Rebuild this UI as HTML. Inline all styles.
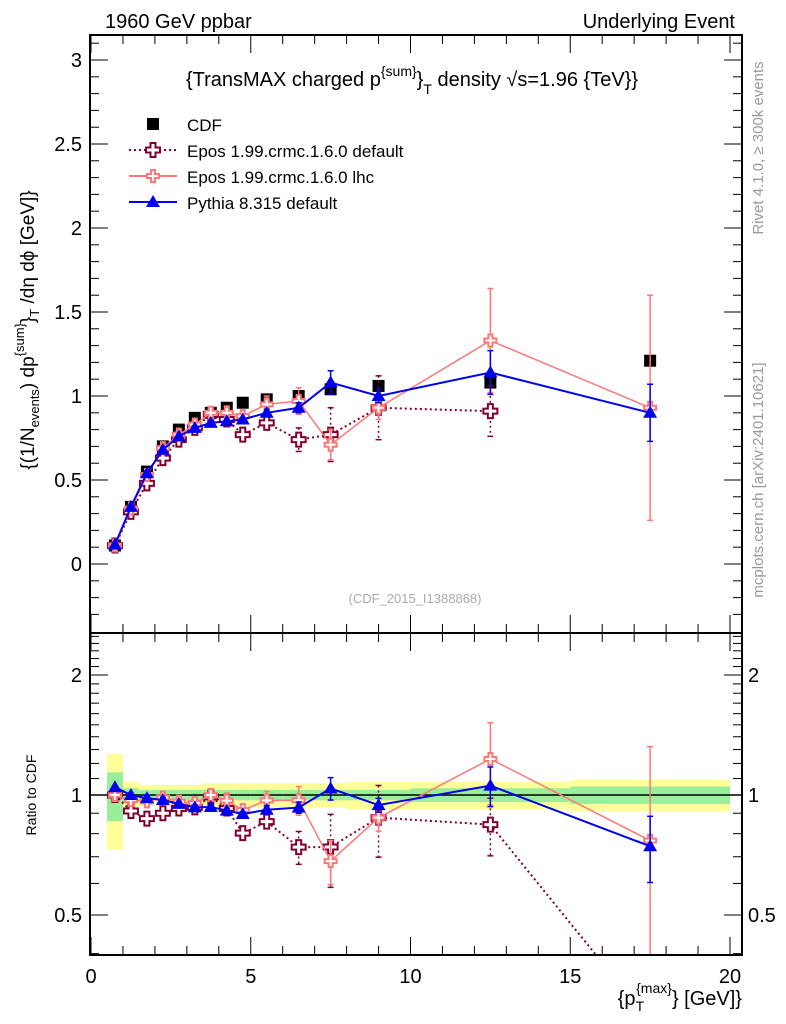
<!DOCTYPE html>
<html><head><meta charset="utf-8"><style>
body{margin:0;background:#fff;}
svg{display:block;font-family:"Liberation Sans",sans-serif;}
</style></head><body>
<svg id="c" width="786" height="1024" xmlns="http://www.w3.org/2000/svg">
<text x="105" y="28" font-size="20">1960 GeV ppbar</text>
<text x="735" y="28" font-size="20" text-anchor="end">Underlying Event</text>
<text x="412" y="86" font-size="20" text-anchor="middle">{TransMAX charged p<tspan dy="-10" font-size="14">{sum}</tspan><tspan dy="10" font-size="20">}</tspan><tspan dy="8" font-size="14">T</tspan><tspan dy="-8" font-size="20"> density √s=1.96 {TeV}}</tspan></text>
<text x="415" y="603" font-size="13" fill="#aaa" text-anchor="middle">(CDF_2015_I1388868)</text>
<text transform="translate(763,148) rotate(-90)" font-size="15" fill="#999" text-anchor="middle">Rivet 4.1.0, ≥ 300k events</text>
<text transform="translate(763,480) rotate(-90)" font-size="15" fill="#999" text-anchor="middle">mcplots.cern.ch [arXiv:2401.10621]</text>
<text transform="translate(34,330) rotate(-90)" font-size="19" text-anchor="middle">{(1/N<tspan font-size="13" dy="5">events</tspan><tspan dy="-5">) dp</tspan><tspan font-size="13" dy="-10">{sum}</tspan><tspan dy="10">}</tspan><tspan font-size="13" dy="5">T</tspan><tspan dy="-5"> /dη  dϕ [GeV]}</tspan></text>
<text transform="translate(36,795) rotate(-90)" font-size="14" text-anchor="middle">Ratio to CDF</text>
<text x="742" y="1005" font-size="20" text-anchor="end">{p<tspan font-size="14" dy="6">T</tspan><tspan font-size="14" dy="-18" dx="-8">{max}</tspan><tspan dy="12">} [GeV]}</tspan></text>
<g id="g"></g>
</svg>
<script>
const xs=[0.75,1.25,1.75,2.25,2.75,3.25,3.75,4.25,4.75,5.5,6.5,7.5,9,12.5,17.5];
const binEdges=[0.5,1,1.5,2,2.5,3,3.5,4,4.5,5,6,7,8,10,15,20];
const cdf=[0.11,0.34,0.55,0.70,0.80,0.87,0.90,0.93,0.96,0.98,1.00,1.04,1.06,1.08,1.21];
const cdfStat=[0.14,0.04,0.03,0.03,0.03,0.03,0.03,0.03,0.03,0.03,0.03,0.03,0.03,0.04,0.05];
const cdfTot=[0.27,0.08,0.06,0.06,0.06,0.06,0.07,0.07,0.07,0.07,0.07,0.07,0.08,0.08,0.09];
const pythia=[0.115,0.34,0.54,0.68,0.76,0.81,0.84,0.85,0.86,0.90,0.93,1.08,1.00,1.14,0.90];
const pythiaErr=[0,0,0.01,0.01,0.01,0.01,0.01,0.01,0.01,0.02,0.03,0.07,0.04,0.13,0.17];
const eposLhc=[0.11,0.33,0.53,0.69,0.77,0.83,0.90,0.90,0.88,0.95,0.97,0.71,0.93,1.33,0.93];
const eposLhcErr=[0,0,0.01,0.01,0.02,0.02,0.03,0.04,0.03,0.05,0.08,0.09,0.07,0.31,0.67];
const eposDef=[0.11,0.31,0.48,0.63,0.74,0.81,0.89,0.86,0.77,0.84,0.74,0.77,0.93,0.91,null];
const eposDefErr=[0,0,0.01,0.01,0.01,0.02,0.02,0.03,0.03,0.03,0.07,0.16,0.19,0.15,0];
const eposDefRatioTail=0.27;
const X0=90,X1=742,T0=35,B0=633,B1=955;
const xp=v=>91+v*31.95;
const ym=v=>564-v*168;
const yr=r=>795-Math.log2(r)*120;
const NS="http://www.w3.org/2000/svg",g=document.getElementById('g');
function el(t,a,name,p){const e=document.createElementNS(NS,t);for(const k in a)e.setAttribute(k,a[k]);


(p||g).appendChild(e);return e;}
const defs=el('defs',{},'defs');
const c1=el('clipPath',{id:'cm'},'clip-main',defs);el('rect',{x:X0,y:T0,width:X1-X0,height:B0-T0},'clip-rect',c1);
const c2=el('clipPath',{id:'cr'},'clip-ratio',defs);el('rect',{x:X0,y:B0,width:X1-X0,height:B1-B0},'clip-rect',c2);
const gr=el('g',{'clip-path':'url(#cr)'},'ratio-area');
for(let i=0;i<xs.length;i++){const a=xp(binEdges[i]),b=xp(binEdges[i+1]);
el('rect',{x:a,width:b-a,y:yr(1+cdfTot[i]),height:yr(1-cdfTot[i])-yr(1+cdfTot[i]),fill:'#ffff99'},'cdf-total-band',gr);
el('rect',{x:a,width:b-a,y:yr(1+cdfStat[i]),height:yr(1-cdfStat[i])-yr(1+cdfStat[i]),fill:'#99ee99'},'cdf-stat-band',gr);}
el('line',{x1:X0,x2:X1,y1:yr(1),y2:yr(1),stroke:'#000','stroke-width':1.5},'ratio-reference-line',gr);
const gm=el('g',{'clip-path':'url(#cm)'},'main-area');
function marker(p,type,x,y,col,name){
 if(type==='sq')el('rect',{x:x-6,y:y-6,width:12,height:12,fill:'#000'},name,p);
 else if(type==='tri')el('path',{d:`M${x},${y-7}L${x+7},${y+5}L${x-7},${y+5}Z`,fill:col},name,p);
 else{const s=type==='crossL'?6:7,w=type==='crossL'?2:2.5;
  el('path',{d:`M${x-w},${y-s}h${2*w}v${s-w}h${s-w}v${2*w}h${-(s-w)}v${s-w}h${-2*w}v${-(s-w)}h${-(s-w)}v${-2*w}h${s-w}Z`,fill:'#fff',stroke:col,'stroke-width':2},name,p);}
}
function series(p,vals,errs,ys,col,dash,type,name,ref,tail){
 let pts=[];
 for(let i=0;i<xs.length;i++){if(vals[i]==null)continue;const v=ref?vals[i]/ref[i]:vals[i];pts.push([xp(xs[i]),ys(v),i,v]);}
 if(tail!=null)pts.push([xp(xs[xs.length-1]),ys(tail),-1,tail]);
 el('polyline',{points:pts.map(q=>q[0]+','+q[1]).join(' '),fill:'none',stroke:col,'stroke-width':type==='crossL'?1.5:2,'stroke-dasharray':dash||''},name+'-line',p);
 pts.forEach(q=>{if(q[2]<0)return;const e=errs[q[2]]/(ref?ref[q[2]]:1);if(e>0){
  el('line',{x1:q[0],x2:q[0],y1:ys(q[3]+e),y2:ys(Math.max(q[3]-e,0.01)),stroke:col,'stroke-width':1.5,'stroke-dasharray':dash||''},name+'-errorbar',p);
  el('line',{x1:q[0]-3,x2:q[0]+3,y1:ys(q[3]+e),y2:ys(q[3]+e),stroke:col,'stroke-width':1.5},name+'-errcap',p);
  el('line',{x1:q[0]-3,x2:q[0]+3,y1:ys(q[3]-e),y2:ys(q[3]-e),stroke:col,'stroke-width':1.5},name+'-errcap',p);}
  marker(p,type,q[0],q[1],col,name+'-marker');});
}
xs.forEach((x,i)=>marker(gm,'sq',xp(x),ym(cdf[i]),'#000','cdf-marker'));
series(gm,eposDef,eposDefErr,ym,'#800033','2,3','cross','epos-default');
series(gm,eposLhc,eposLhcErr,ym,'#ff7777','','crossL','epos-lhc');
series(gm,pythia,pythiaErr,ym,'#0000ee','','tri','pythia');
series(gr,eposDef,eposDefErr,yr,'#800033','2,3','cross','ratio-epos-default',cdf,eposDefRatioTail);
series(gr,eposLhc,eposLhcErr,yr,'#ff7777','','crossL','ratio-epos-lhc',cdf);
series(gr,pythia,pythiaErr,yr,'#0000ee','','tri','ratio-pythia',cdf);
el('rect',{x:X0,y:T0,width:X1-X0,height:B0-T0,fill:'none',stroke:'#000','stroke-width':2},'main-frame');
el('rect',{x:X0,y:B0,width:X1-X0,height:B1-B0,fill:'none',stroke:'#000','stroke-width':2},'ratio-frame');
for(let v=0;v<=20;v++){const x=xp(v);const L=v%5==0?18:9;
 [[T0,1],[B0,-1],[B0,1],[B1,-1]].forEach(([y,d])=>el('line',{x1:x,x2:x,y1:y,y2:y+d*L,stroke:'#000','stroke-width':1},'x-tick'));
 if(v%5==0){const t=el('text',{x:x,y:983,'font-size':20,'text-anchor':'middle'},'x-tick-label');t.textContent=v;}}
for(let k=-3;k<=31;k++){const v=k/10,y=ym(v);if(y<T0||y>B0)continue;const L=k%5==0?18:9;
 el('line',{x1:X0,x2:X0+L,y1:y,y2:y,stroke:'#000'},'y-tick');el('line',{x1:X1,x2:X1-L,y1:y,y2:y,stroke:'#000'},'y-tick');
 if(k%5==0){const t=el('text',{x:82,y:y+7,'font-size':20,'text-anchor':'end'},'y-tick-label');t.textContent=v;}}
const rt=[0.4,0.5,0.6,0.7,0.8,0.9,1,1.1,1.2,1.3,1.4,1.5,1.6,1.7,1.8,1.9,2,2.1,2.2,2.3,2.4,2.5];
rt.forEach(v=>{const y=yr(v),maj=[0.5,1,2].includes(v),L=maj?18:9;if(y<B0)return;
 el('line',{x1:X0,x2:X0+L,y1:y,y2:y,stroke:'#000'},'ratio-tick');el('line',{x1:X1,x2:X1-L,y1:y,y2:y,stroke:'#000'},'ratio-tick');
 if(maj){let t=el('text',{x:82,y:y+7,'font-size':20,'text-anchor':'end'},'ratio-tick-label');t.textContent=v;
 t=el('text',{x:748,y:y+7,'font-size':20},'ratio-tick-label-right');t.textContent=v;}});
const lg=[['CDF','sq','#000',''],['Epos 1.99.crmc.1.6.0 default','cross','#800033','2,3'],['Epos 1.99.crmc.1.6.0 lhc','crossL','#ff7777',''],['Pythia 8.315 default','tri','#0000ee','']];
lg.forEach((l,i)=>{const y=124+i*26;
 if(i>0)el('line',{x1:129,x2:177,y1:y,y2:y,stroke:l[2],'stroke-width':2,'stroke-dasharray':l[3]},'legend-line');
 marker(g,l[1],153,y,l[2],'legend-marker');
 const t=el('text',{x:187,y:y+7,'font-size':17},'legend-entry');t.textContent=l[0];});
</script>
</body></html>
